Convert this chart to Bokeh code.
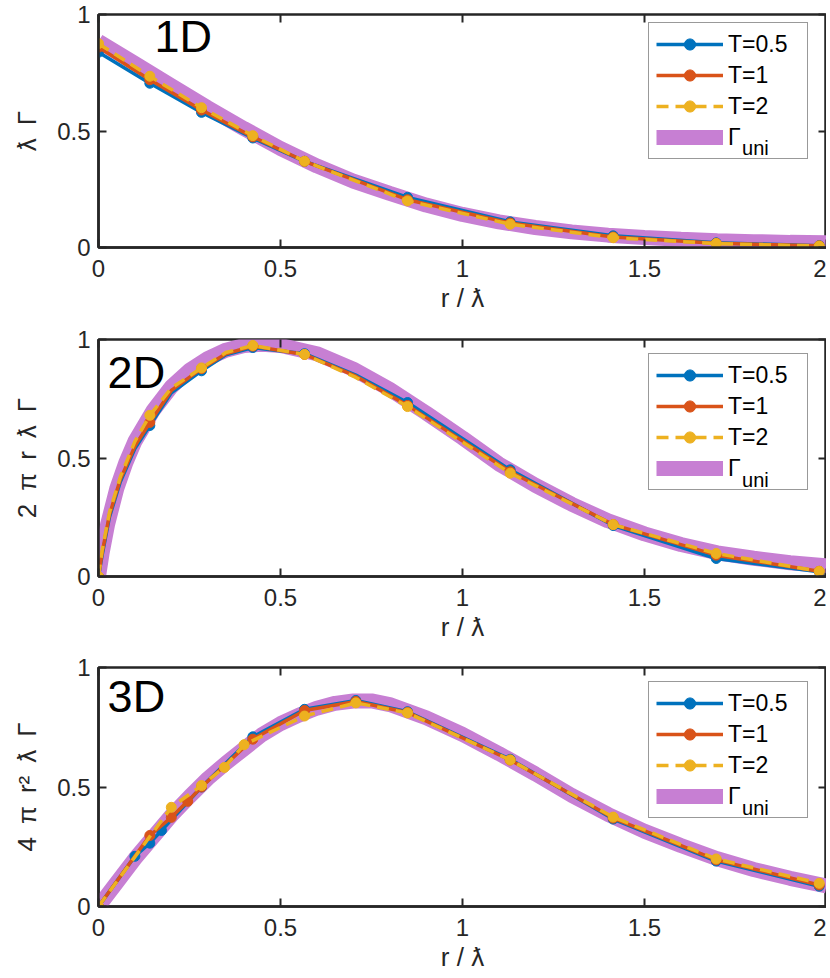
from bokeh.plotting import figure
from bokeh.models import Range1d, LinearAxis, Label, Legend, LegendItem, FixedTicker, NumeralTickFormatter
from bokeh.layouts import column
from bokeh.embed import file_html
from bokeh.resources import INLINE

# ---------------- data ----------------
XTICKS = [0, 0.5, 1, 1.5, 2]
YTICKS = [0, 0.5, 1]

# 1D panel
R1 = [0, 0.141, 0.283, 0.424, 0.566, 0.849, 1.131, 1.414, 1.697, 1.98]
D1_T05 = [0.838, 0.705, 0.58, 0.47, 0.37, 0.215, 0.11, 0.05, 0.02, 0.008]
D1_T1 = [0.86, 0.72, 0.59, 0.475, 0.37, 0.205, 0.105, 0.045, 0.018, 0.007]
D1_T2 = [0.875, 0.735, 0.60, 0.48, 0.37, 0.20, 0.10, 0.042, 0.017, 0.006]
U1_X = [0, 0.1, 0.2, 0.3, 0.4, 0.5, 0.6, 0.7, 0.8, 0.9, 1.0, 1.1, 1.2, 1.3, 1.4, 1.5, 1.6, 1.7, 1.8, 1.9, 2.0]
U1_Y = [0.885, 0.79, 0.695, 0.60, 0.51, 0.425, 0.35, 0.285, 0.232, 0.182, 0.142, 0.11, 0.086, 0.067, 0.053, 0.043, 0.035, 0.029, 0.025, 0.022, 0.02]

# 2D panel
R2 = [0, 0.01, 0.03, 0.06, 0.1, 0.141, 0.2, 0.283, 0.35, 0.424, 0.566, 0.707, 0.849, 1.131, 1.414, 1.697, 1.98]
R2_MARK = [0, 0.141, 0.283, 0.424, 0.566, 0.849, 1.131, 1.414, 1.697, 1.98]
D2_T05 = [0, 0.09, 0.25, 0.40, 0.54, 0.637, 0.775, 0.868, 0.935, 0.966, 0.94, 0.85, 0.734, 0.45, 0.215, 0.076, 0.02]
D2_T1 = [0, 0.10, 0.26, 0.41, 0.55, 0.65, 0.785, 0.877, 0.94, 0.972, 0.937, 0.845, 0.722, 0.442, 0.219, 0.09, 0.022]
D2_T2 = [0, 0.11, 0.27, 0.42, 0.57, 0.68, 0.795, 0.88, 0.945, 0.975, 0.937, 0.84, 0.717, 0.436, 0.219, 0.097, 0.022]
U2_X = [0, 0.01, 0.025, 0.05, 0.075, 0.1, 0.15, 0.2, 0.25, 0.3, 0.35, 0.4, 0.45, 0.5, 0.6, 0.7, 0.8, 0.9, 1.0, 1.1, 1.2, 1.3, 1.4, 1.5, 1.6, 1.7, 1.8, 1.9, 2.0]
U2_Y = [0, 0.10, 0.22, 0.37, 0.48, 0.57, 0.70, 0.80, 0.87, 0.92, 0.955, 0.975, 0.98, 0.975, 0.94, 0.875, 0.79, 0.69, 0.585, 0.475, 0.385, 0.305, 0.235, 0.18, 0.135, 0.10, 0.077, 0.058, 0.045]

# 3D panel
R3_T05 = [0, 0.1, 0.141, 0.173, 0.283, 0.424, 0.566, 0.707, 0.849, 1.131, 1.414, 1.697, 1.98]
D3_T05 = [0, 0.21, 0.265, 0.318, 0.50, 0.71, 0.825, 0.862, 0.815, 0.616, 0.366, 0.19, 0.085]
R3_T1 = [0, 0.141, 0.2, 0.245, 0.283, 0.424, 0.566, 0.707, 0.849, 1.131, 1.414, 1.697, 1.98]
D3_T1 = [0, 0.297, 0.373, 0.44, 0.50, 0.70, 0.82, 0.858, 0.812, 0.613, 0.37, 0.195, 0.09]
R3_T2 = [0, 0.2, 0.283, 0.346, 0.4, 0.566, 0.707, 0.849, 1.131, 1.414, 1.697, 1.98]
D3_T2 = [0, 0.415, 0.506, 0.582, 0.677, 0.797, 0.852, 0.81, 0.613, 0.374, 0.199, 0.097]
U3_X = [0, 0.05, 0.1, 0.15, 0.2, 0.25, 0.3, 0.35, 0.4, 0.45, 0.5, 0.55, 0.6, 0.65, 0.7, 0.75, 0.8, 0.9, 1.0, 1.1, 1.2, 1.3, 1.4, 1.5, 1.6, 1.7, 1.8, 1.9, 2.0]
U3_Y = [0, 0.10, 0.20, 0.29, 0.38, 0.46, 0.535, 0.60, 0.66, 0.72, 0.765, 0.80, 0.83, 0.85, 0.86, 0.86, 0.845, 0.79, 0.72, 0.64, 0.555, 0.465, 0.385, 0.315, 0.255, 0.20, 0.155, 0.118, 0.086]

SERIES_LABELS = ["T=0.5", "T=1", "T=2"]
UNI_LABEL = "Γ"
UNI_SUB = "uni"
SP = "\u2002"
YLABELS = ["ƛ" + SP + "Γ", "2" + SP + "π" + SP + "r" + SP + "ƛ" + SP + "Γ",
           "4" + SP + "π" + SP + "r²" + SP + "ƛ" + SP + "Γ"]
XLABEL = "r / ƛ"
PANEL_TAGS = ["1D", "2D", "3D"]

# ---------------- styles ----------------
BLUE = "#0072BD"
RED = "#D95319"
YEL = "#EDB120"
PURP = "#C77FD3"
INK = "#262626"
FONT = "Liberation Sans"


def panel(series, uni, ylabel, tag, tag_xy, uni_y, leg_xy, top, fh, bottom):
    p = figure(frame_width=728, frame_height=fh, min_border_left=98, min_border_right=0,
               min_border_top=top, min_border_bottom=bottom,
               x_range=Range1d(0, 2), y_range=Range1d(0, 1),
               output_backend="svg", toolbar_location=None, tools="")
    p.grid.visible = False
    p.outline_line_color = INK
    p.outline_line_width = 2.5
    p.outline_line_alpha = 1
    p.background_fill_color = "white"

    for ax, ticks in ((p.xaxis[0], XTICKS), (p.yaxis[0], YTICKS)):
        ax.ticker = FixedTicker(ticks=ticks)
        ax.formatter = NumeralTickFormatter(format="0.[0]")
        ax.major_tick_in = 8
        ax.major_tick_out = 0
        ax.minor_tick_in = 0
        ax.minor_tick_out = 0
        ax.major_tick_line_width = 2
        ax.major_tick_line_color = INK
        ax.axis_line_color = INK
        ax.axis_line_width = 2.5
        ax.major_label_text_font = FONT
        ax.major_label_text_font_size = "24px"
        ax.major_label_text_color = INK
        ax.axis_label_text_font = FONT
        ax.axis_label_text_font_size = "26px"
        ax.axis_label_text_font_style = "normal"
        ax.axis_label_text_color = INK
    p.xaxis.axis_label = XLABEL
    p.xaxis.major_label_standoff = 12
    p.xaxis.axis_label_standoff = 3
    p.yaxis.axis_label = ylabel
    p.yaxis.major_label_standoff = 8
    p.yaxis.axis_label_standoff = 12

    for loc, ticks in (("above", XTICKS), ("right", YTICKS)):
        ax = LinearAxis(ticker=FixedTicker(ticks=ticks), major_label_text_font_size="1px",
                        major_label_text_color=None, major_label_standoff=0,
                        major_tick_in=8, major_tick_out=0,
                        minor_tick_in=0, minor_tick_out=0, major_tick_line_width=2,
                        major_tick_line_color=INK, axis_line_color=None)
        p.add_layout(ax, loc)

    ux, uy = uni
    ur = p.line(ux, uy, line_color=PURP, line_width=15, line_cap="butt")

    items = []
    styles = [(BLUE, "solid"), (RED, "solid"), (YEL, "12 7")]
    for (xs, ys, mx, my), (col, dash), lab in zip(series, styles, SERIES_LABELS):
        lr = p.line(xs, ys, line_color=col, line_width=3.5, line_dash=dash)
        sr = p.scatter(mx, my, size=10, fill_color=col, line_color=col, marker="circle")
        items.append(LegendItem(label=lab, renderers=[lr, sr]))
    items.append(LegendItem(label=UNI_LABEL, renderers=[ur]))

    leg = Legend(items=items, location=leg_xy, margin=0, padding=7, spacing=3,
                 glyph_width=67, glyph_height=28, label_standoff=5, label_width=72,
                 label_text_font=FONT, label_text_font_size="23px", label_text_color="black",
                 border_line_color="#333333", border_line_width=1,
                 background_fill_color=None)
    p.add_layout(leg)
    p.add_layout(Label(x=1.768, y=uni_y, text=UNI_SUB, text_font=FONT, level="overlay",
                       text_font_size="20px", text_color="black", text_baseline="middle"))

    p.add_layout(Label(x=tag_xy[0], y=tag_xy[1], text=tag, text_font=FONT,
                       text_font_size="45px", text_color="black", text_baseline="middle"))
    return p


def pick(xs, ys, keep):
    mx = [x for x in xs if x in keep]
    my = [y for x, y in zip(xs, ys) if x in keep]
    return mx, my


s1 = [(R1, d, R1, d) for d in (D1_T05, D1_T1, D1_T2)]
s2 = [(R2, d) + pick(R2, d, R2_MARK) for d in (D2_T05, D2_T1, D2_T2)]
s3 = [(R3_T05, D3_T05, R3_T05, D3_T05), (R3_T1, D3_T1, R3_T1, D3_T1), (R3_T2, D3_T2, R3_T2, D3_T2)]

p1 = panel(s1, (U1_X, U1_Y), YLABELS[0], PANEL_TAGS[0], (0.154, 0.906), 0.425, (550, 88), 14, 233, 78)
p2 = panel(s2, (U2_X, U2_Y), YLABELS[1], PANEL_TAGS[1], (0.025, 0.861), 0.409, (550, 86), 14, 237, 77)
p3 = panel(s3, (U3_X, U3_Y), YLABELS[2], PANEL_TAGS[2], (0.025, 0.879), 0.414, (550, 88), 14, 239, 68)

layout = column(p1, p2, p3)
open("out.html", "w").write(file_html(layout, INLINE))
